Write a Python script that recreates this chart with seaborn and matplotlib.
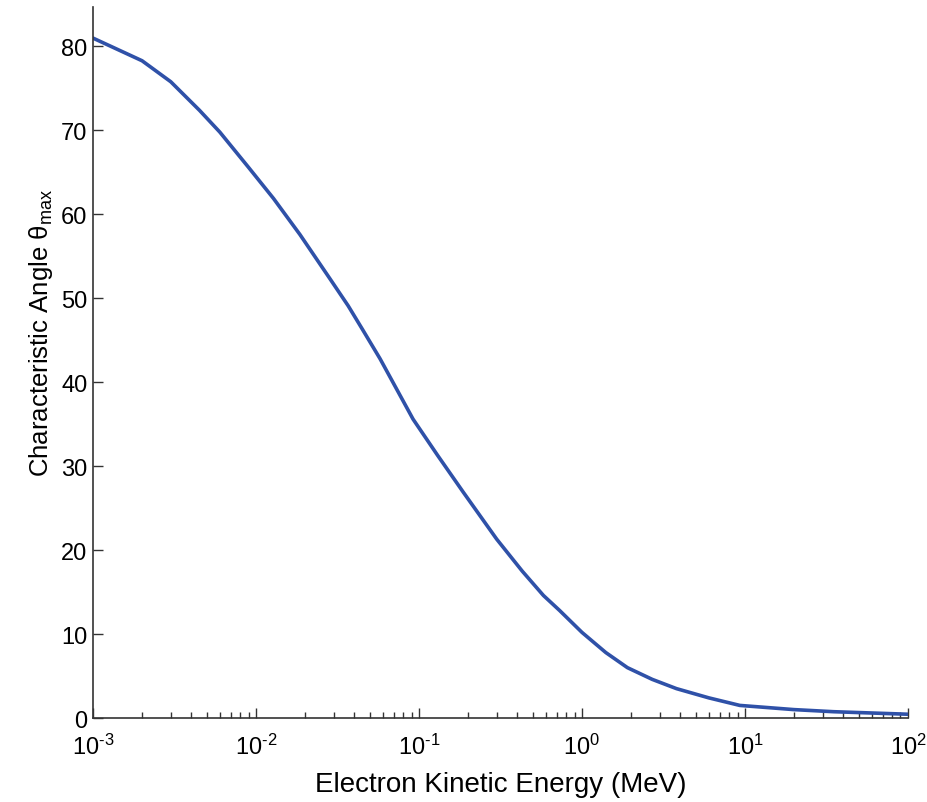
import numpy as np
import pandas as pd
import matplotlib
matplotlib.use("Agg")
import matplotlib.pyplot as plt
import seaborn as sns
from matplotlib.ticker import LogLocator, NullFormatter, FixedLocator

# values
energy_mev = [0.001, 0.002, 0.003, 0.0045, 0.006, 0.009, 0.0128, 0.0186,
              0.0285, 0.0368, 0.045, 0.0577, 0.092, 0.13, 0.187, 0.30,
              0.43, 0.58, 0.73, 1.0, 1.4, 1.9, 2.7, 3.8, 6.0, 9.3,
              20.0, 35.0, 100.0]
theta_max = [81.0, 78.3, 75.8, 72.4, 69.8, 65.6, 61.9, 57.6,
             52.3, 49.1, 46.3, 42.8, 35.6, 31.3, 26.9, 21.3,
             17.5, 14.6, 12.8, 10.2, 7.8, 6.0, 4.6, 3.5, 2.4, 1.5,
             1.0, 0.75, 0.45]
x_ticks = [1e-3, 1e-2, 1e-1, 1e0, 1e1, 1e2]
x_tick_labels = [r'$10^{\text{-3}}$', r'$10^{\text{-2}}$', r'$10^{\text{-1}}$',
                 r'$10^{0}$', r'$10^{1}$', r'$10^{2}$']
y_ticks = [0, 10, 20, 30, 40, 50, 60, 70, 80]

sns.set_style("ticks")
plt.rcParams['font.family'] = ['Liberation Sans', 'DejaVu Sans']
plt.rcParams['mathtext.fontset'] = 'custom'
plt.rcParams['mathtext.rm'] = 'Liberation Sans'
plt.rcParams['mathtext.it'] = 'Liberation Sans:italic'
plt.rcParams['text.color'] = 'black'
plt.rcParams['axes.labelcolor'] = 'black'

df = pd.DataFrame({'energy': energy_mev, 'theta': theta_max})

fig = plt.figure(figsize=(9.28, 8.03), dpi=100)
ax = fig.add_axes([0.1002, 0.1046, 0.8782, 0.8854])

sns.lineplot(data=df, x='energy', y='theta', ax=ax, color='#2f51a8', linewidth=2.6)

ax.set_xscale('log')
ax.set_xlim(1e-3, 1e2)
ax.set_ylim(0, 84.7)

ax.xaxis.set_major_locator(FixedLocator(x_ticks))
ax.set_xticklabels(x_tick_labels)
ax.xaxis.set_minor_locator(LogLocator(base=10, subs=np.arange(2, 10), numticks=20))
ax.xaxis.set_minor_formatter(NullFormatter())
ax.set_yticks(y_ticks)

ax.tick_params(axis='both', which='major', direction='in', length=7, width=1,
               color='#333333', labelsize=17, labelcolor='black')
ax.tick_params(axis='x', which='minor', direction='in', length=4, width=1, color='#333333')
ax.tick_params(axis='x', which='major', pad=11)
ax.tick_params(axis='y', which='major', pad=4)

for side in ['top', 'right']:
    ax.spines[side].set_visible(False)
for side in ['left', 'bottom']:
    ax.spines[side].set_color('#333333')
    ax.spines[side].set_linewidth(1.2)

ax.set_xlabel('Electron Kinetic Energy (MeV)', fontsize=20, labelpad=9, color='black')
ax.set_ylabel(r'Characteristic Angle θ$_{\mathrm{max}}$', fontsize=18.5, color='black')
ax.yaxis.set_label_coords(-0.047, 0.543)

fig.savefig('out.png', dpi=100)
plt.close(fig)
